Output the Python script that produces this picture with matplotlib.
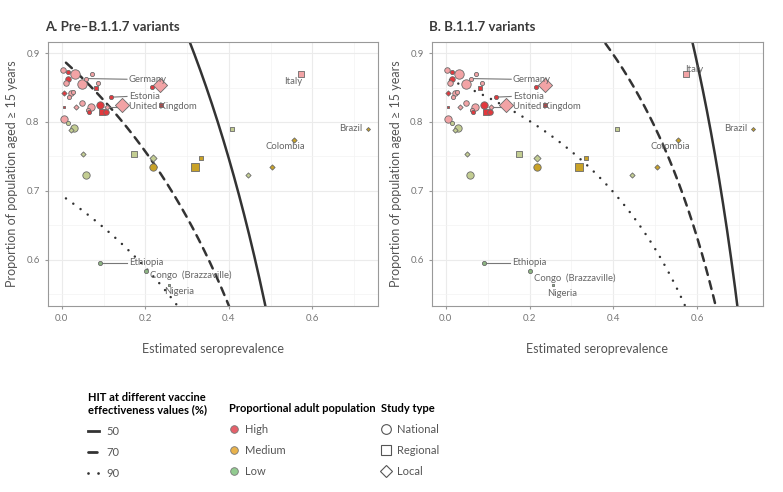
import numpy as np
import matplotlib.pyplot as plt
from matplotlib.lines import Line2D

plt.rcParams['font.family'] = ['Lato', 'DejaVu Sans']

# seroprevalence estimates and proportion of population aged >= 15
sero = [0.002, 0.014, 0.031, 0.014, 0.049, 0.059, 0.072, 0.087, 0.081, 0.009,
        0.005, 0.021, 0.026, 0.018, 0.049, 0.033, 0.006, 0.069, 0.063, 0.066,
        0.092, 0.096, 0.106, 0.108, 0.119, 0.144, 0.216, 0.236, 0.237, 0.005,
        0.029, 0.021, 0.014, 0.051, 0.174, 0.218, 0.218, 0.058, 0.319, 0.334,
        0.445, 0.503, 0.573, 0.408, 0.734, 0.555, 0.091, 0.201, 0.256]
adult = [0.876, 0.873, 0.870, 0.863, 0.855, 0.863, 0.870, 0.856, 0.850, 0.856,
         0.842, 0.842, 0.843, 0.836, 0.827, 0.822, 0.822, 0.822, 0.818, 0.814,
         0.824, 0.815, 0.814, 0.822, 0.836, 0.824, 0.851, 0.853, 0.825, 0.805,
         0.791, 0.789, 0.798, 0.753, 0.753, 0.748, 0.734, 0.723, 0.734, 0.748,
         0.723, 0.734, 0.869, 0.790, 0.790, 0.774, 0.596, 0.584, 0.564]
group = ['High'] * 30 + ['Low', 'Low', 'Low', 'Low', 'Low', 'Low', 'Medium',
         'Low', 'Medium', 'Medium', 'Low', 'Medium', 'High', 'Low', 'Medium',
         'Medium', 'Low', 'Low', 'Low']
study = ['National', 'National', 'National', 'National', 'National', 'National',
         'National', 'National', 'Regional', 'National', 'Local', 'National',
         'National', 'National', 'National', 'Local', 'Regional', 'National',
         'National', 'National', 'National', 'Regional', 'National', 'Local',
         'National', 'Local', 'National', 'Local', 'Regional', 'National',
         'National', 'Local', 'National', 'Local', 'Regional', 'Local',
         'National', 'National', 'Regional', 'Regional', 'Local', 'Local',
         'Regional', 'Regional', 'Local', 'Local', 'National', 'National',
         'Regional']
size_class = [2, 1, 4, 2, 4, 1, 1, 1, 1, 2,
              1, 2, 1, 1, 2, 1, 0, 3, 1, 1,
              3, 2, 2, 1, 1, 4, 1, 4, 1, 3,
              3, 1, 1, 1, 2, 2, 3, 3, 3, 1,
              1, 1, 2, 1, 0, 1, 1, 1, 0]
shade = [0, 1, 0, 1, 0, 0, 0, 0, 1, 0,
         1, 0, 0, 0, 0, 0, 1, 0, 0, 1,
         1, 1, 1, 0, 1, 0, 1, 0, 1, 0,
         0, 0, 0, 0, 0, 0, 1, 0, 1, 1,
         0, 1, 0, 0, 1, 1, 1, 1, 1]

country = {'Germany': 5, 'Estonia': 24, 'United Kingdom': 23, 'Italy': 42,
           'Brazil': 44, 'Colombia': 45, 'Ethiopia': 46,
           'Congo  (Brazzaville)': 47, 'Nigeria': 48}

hit_pre = 0.624
hit_b117 = 0.777
ve_values = [50, 70, 90]

# label placement (text x, y, ha, draw segment)
lab_a = {'Germany': (0.16, 0.862, 'left', True),
         'Estonia': (0.16, 0.837, 'left', True),
         'United Kingdom': (0.16, 0.822, 'left', True),
         'Italy': (0.554, 0.859, 'center', False),
         'Brazil': (0.719, 0.790, 'right', False),
         'Colombia': (0.535, 0.764, 'center', False),
         'Ethiopia': (0.161, 0.596, 'left', True),
         'Congo  (Brazzaville)': (0.211, 0.578, 'left', False),
         'Nigeria': (0.246, 0.554, 'left', False)}
lab_b = dict(lab_a)
lab_b['Italy'] = (0.592, 0.876, 'center', False)
lab_b['Ethiopia'] = (0.158, 0.596, 'left', True)
lab_b['Congo  (Brazzaville)'] = (0.21, 0.573, 'left', False)
lab_b['Nigeria'] = (0.242, 0.551, 'left', False)

colors = {'High': ('#F2A3A5', '#E2383D'),
          'Medium': ('#DCCB6E', '#C9A227'),
          'Low': ('#C3CD92', '#8DB583')}
markers = {'National': 'o', 'Regional': 's', 'Local': 'D'}
msize = {'o': [4, 9, 16, 28, 46], 's': [4, 8, 14, 26, 44], 'D': [4, 7, 13, 26, 52]}
styles = {50: '-', 70: (0, (3.2, 2.6)), 90: (0, (0.01, 3.6))}


def draw_panel(ax, hit, title, labpos):
    s = np.linspace(0.01, hit, 400)
    for ve in ve_values:
        a = (hit - s) / ((1 - s) * ve / 100)
        ax.plot(s, a, color='#333333', lw=1.8, ls=styles[ve],
                dash_capstyle='round', zorder=2)
    for i in range(len(sero)):
        m = markers[study[i]]
        ax.scatter(sero[i], adult[i], s=msize[m][size_class[i]], marker=m,
                   color=colors[group[i]][shade[i]], edgecolor='#6a6a6a',
                   linewidth=0.6, zorder=3)
    for name, i in country.items():
        tx, ty, ha, seg = labpos[name]
        if seg:
            ax.plot([sero[i], tx - 0.004], [adult[i], ty], color='#777777',
                    lw=0.8, zorder=2.5)
        ax.text(tx, ty, name, ha=ha, va='center', fontsize=6.8,
                color='#666666', zorder=4)
    ax.set_xlim(-0.033, 0.757)
    ax.set_ylim(0.533, 0.916)
    ax.set_xticks([0, 0.2, 0.4, 0.6])
    ax.set_xticklabels(['0.0', '0.2', '0.4', '0.6'])
    ax.set_xticks([0.1, 0.3, 0.5, 0.7], minor=True)
    ax.set_yticks([0.6, 0.7, 0.8, 0.9])
    ax.set_yticklabels(['0.6', '0.7', '0.8', '0.9'])
    ax.set_yticks([0.55, 0.65, 0.75, 0.85], minor=True)
    ax.grid(which='major', color='#EBEBEB', lw=0.8)
    ax.grid(which='minor', color='#F3F3F3', lw=0.5)
    ax.set_axisbelow(True)
    ax.tick_params(which='major', length=2.5, color='#999999', labelsize=7,
                   labelcolor='#777777')
    ax.tick_params(which='minor', length=0)
    for sp in ax.spines.values():
        sp.set_color('#999999')
        sp.set_linewidth(0.8)
    ax.set_xlabel('Estimated seroprevalence', fontsize=9, color='#555555',
                  labelpad=14)
    ax.set_ylabel('Proportion of population aged \u2265 15 years', fontsize=9,
                  color='#555555', labelpad=6)
    ax.set_title(title, loc='left', fontsize=9.5, fontweight='bold',
                 color='#3a3a3a', x=-0.01, pad=8)


fig = plt.figure(figsize=(7.83, 4.92), dpi=100)
ax1 = fig.add_axes([0.0613, 0.378, 0.4215, 0.5366])
ax2 = fig.add_axes([0.5517, 0.378, 0.4227, 0.5366])
draw_panel(ax1, hit_pre, 'A. Pre\u2013B.1.1.7 variants', lab_a)
draw_panel(ax2, hit_b117, 'B. B.1.1.7 variants', lab_b)

leg_kw = dict(frameon=False, fontsize=8, labelcolor='#555555',
              loc='upper left', alignment='left', labelspacing=0.9,
              handletextpad=0.6,
              title_fontproperties={'weight': 'bold', 'size': 8})

h1 = [Line2D([], [], color='#333333', lw=2, ls=styles[v], dash_capstyle='round')
      for v in ve_values]
l1 = fig.legend(h1, [str(v) for v in ve_values],
                title='HIT at different vaccine\neffectiveness values (%)',
                bbox_to_anchor=(0.1, 0.224), handlelength=1.0, **leg_kw)

legend_cols = {'High': '#E5606A', 'Medium': '#E8B24C', 'Low': '#92CB90'}
h2 = [Line2D([], [], ls='', marker='o', ms=5.5, markerfacecolor=c,
             markeredgecolor='#777777', markeredgewidth=0.6)
      for c in legend_cols.values()]
l2 = fig.legend(h2, list(legend_cols.keys()), title='Proportional adult population',
                bbox_to_anchor=(0.28, 0.201), handlelength=0.8, **leg_kw)

h3 = [Line2D([], [], ls='', marker=markers[k], ms=7 if k != 'Local' else 6.5,
             markerfacecolor='white', markeredgecolor='#555555',
             markeredgewidth=0.8)
      for k in ['National', 'Regional', 'Local']]
l3 = fig.legend(h3, ['National', 'Regional', 'Local'], title='Study type',
                bbox_to_anchor=(0.474, 0.201), handlelength=0.8, **leg_kw)

fig.savefig('out.png', dpi=100)
